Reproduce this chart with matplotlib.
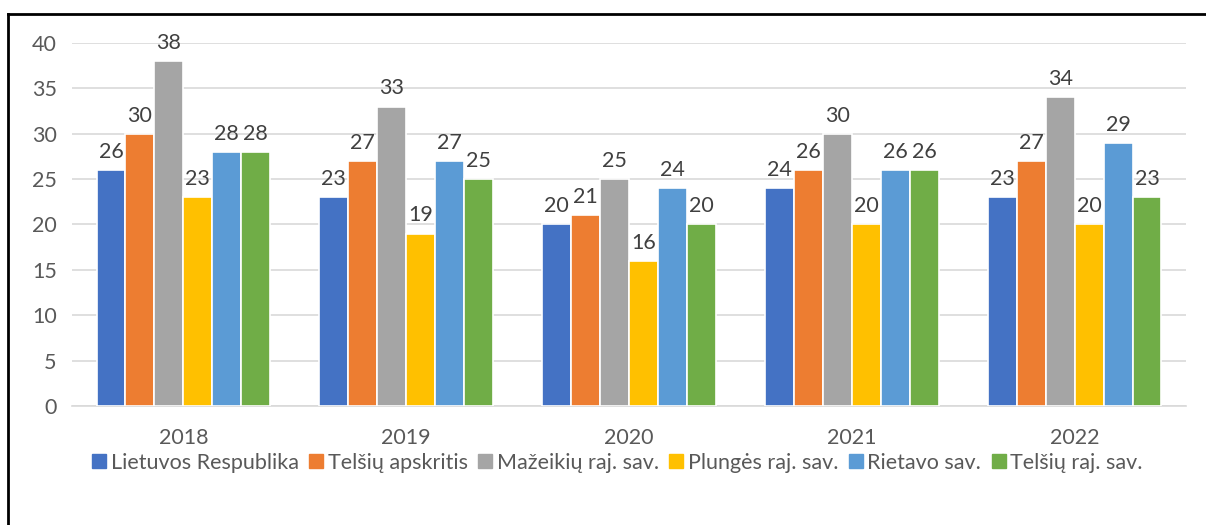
import numpy as np
import matplotlib.pyplot as plt
from matplotlib.lines import Line2D

plt.rcParams['font.family'] = ['Lato', 'DejaVu Sans']

# Data
years = ['2018', '2019', '2020', '2021', '2022']
series_names = ['Lietuvos Respublika', 'Telšių apskritis', 'Mažeikių raj. sav.',
                'Plungės raj. sav.', 'Rietavo sav.', 'Telšių raj. sav.']
lietuvos = [26, 23, 20, 24, 23]
telsiu_aps = [30, 27, 21, 26, 27]
mazeikiu = [38, 33, 25, 30, 34]
plunges = [23, 19, 16, 20, 20]
rietavo = [28, 27, 24, 26, 29]
telsiu_raj = [28, 25, 20, 26, 23]
colors = ['#4472C4', '#ED7D31', '#A5A5A5', '#FFC000', '#5B9BD5', '#70AD47']

all_series = [lietuvos, telsiu_aps, mazeikiu, plunges, rietavo, telsiu_raj]

fig = plt.figure(figsize=(12.06, 5.25), dpi=100)
ax = fig.add_axes([72 / 1206, 1 - 406 / 525, (1186 - 72) / 1206, (406 - 43) / 525])

x = np.arange(len(years))
w = 0.13
for i, (vals, c) in enumerate(zip(all_series, colors)):
    pos = x + (i - 2.5) * w
    ax.bar(pos, vals, width=w, color=c, edgecolor='white', linewidth=1.2, zorder=3)
    for p, v in zip(pos, vals):
        ax.text(p, v + 0.9, str(v), ha='center', va='bottom', fontsize=15.5, color='#404040')

ax.set_xlim(-0.5, 4.5)
ax.set_ylim(0, 40)
ax.set_yticks(range(0, 41, 5))
ax.grid(axis='y', color='#D9D9D9', linewidth=1.2, zorder=0)
for s in ['top', 'right', 'left']:
    ax.spines[s].set_visible(False)
ax.spines['bottom'].set_color('#D9D9D9')
ax.spines['bottom'].set_linewidth(1.2)
ax.set_xticks(x)
ax.set_xticklabels(years)
ax.tick_params(axis='both', length=0, labelsize=15.5, colors='#595959')
ax.tick_params(axis='x', pad=16)
ax.tick_params(axis='y', pad=11)

handles = [Line2D([0], [0], marker='s', linestyle='', markersize=10,
                  markerfacecolor=c, markeredgecolor=c) for c in colors]
fig.legend(handles, series_names, loc='center', bbox_to_anchor=(617 / 1206, 1 - 463 / 525),
           ncol=6, frameon=False, fontsize=15.5, labelcolor='#595959',
           handletextpad=0.2, columnspacing=0.45, handlelength=0.7)

# outer frame (left and top edges visible)
fig.add_artist(Line2D([8 / 1206, 8 / 1206], [0, 1 - 14 / 525], transform=fig.transFigure,
                      color='black', linewidth=2))
fig.add_artist(Line2D([8 / 1206, 1], [1 - 14 / 525, 1 - 14 / 525], transform=fig.transFigure,
                      color='black', linewidth=2))

fig.savefig('out.png', dpi=100)
